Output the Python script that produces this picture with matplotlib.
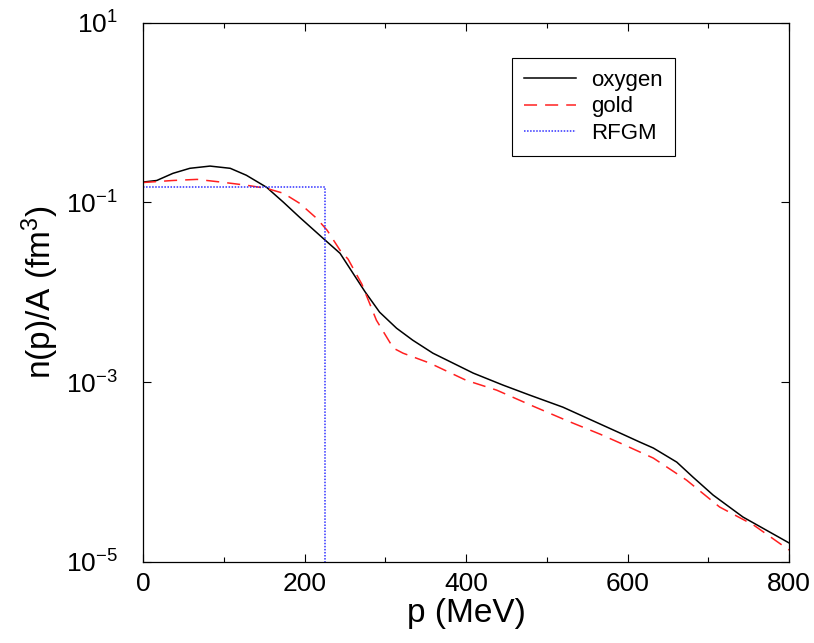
import numpy as np
import matplotlib
matplotlib.use("Agg")
import matplotlib.pyplot as plt
from matplotlib.ticker import FixedLocator, NullFormatter

plt.rcParams['font.family'] = ['Liberation Sans', 'DejaVu Sans']
plt.rcParams['mathtext.fontset'] = 'custom'
plt.rcParams['mathtext.rm'] = 'Liberation Sans'
plt.rcParams['mathtext.it'] = 'Liberation Sans'
plt.rcParams['lines.scale_dashes'] = False

# momentum distributions
p_oxygen = [0, 17, 37, 58, 83, 108, 128, 153, 174, 194, 223, 244, 275, 293, 314, 334,
            359, 409, 446, 479, 520, 591, 615, 632, 661, 681, 706, 743, 800]
n_oxygen = [0.168, 0.175, 0.210, 0.239, 0.253, 0.239, 0.200, 0.147, 0.100, 0.0681,
            0.0398, 0.0271, 0.0101, 0.0060, 0.00398, 0.00293, 0.00210, 0.00126,
            0.000926, 0.000717, 0.000527, 0.000271, 0.000216, 0.000185, 0.000129,
            8.8e-5, 5.55e-5, 3.16e-5, 1.63e-5]

p_gold = [0, 37, 67, 99, 128, 153, 174, 194, 215, 228, 244, 254, 271, 289, 310, 322,
          355, 400, 438, 483, 525, 566, 591, 632, 673, 714, 756, 800]
n_gold = [0.166, 0.175, 0.180, 0.167, 0.155, 0.143, 0.126, 0.0975, 0.0664, 0.0489,
          0.0293, 0.0233, 0.0123, 0.00489, 0.00239, 0.0021, 0.00163, 0.00105,
          0.000815, 0.000541, 0.000373, 0.000264, 0.00021, 0.000143, 8.15e-5,
          4.09e-5, 2.58e-5, 1.36e-5]

p_rfgm = [0, 225, 225]
n_rfgm = [0.147, 0.147, 1e-6]

fig = plt.figure(figsize=(8.14, 6.43), dpi=100)
ax = fig.add_axes([0.1757, 0.126, 0.7936, 0.839])

ax.plot(p_oxygen, n_oxygen, color='black', lw=1.1, label='oxygen')
ax.plot(p_gold, n_gold, color='#ff2020', lw=1.1, dashes=(9.4, 5.8), label='gold')
ax.plot(p_rfgm, n_rfgm, color='#3030ff', lw=1.1, dashes=(1.1, 1.1), label='RFGM')

ax.set_yscale('log')
ax.set_xlim(0, 800)
ax.set_ylim(1e-5, 10)

ax.xaxis.set_major_locator(FixedLocator([0, 200, 400, 600, 800]))
ax.xaxis.set_minor_locator(FixedLocator([100, 300, 500, 700]))
ax.yaxis.set_major_locator(FixedLocator([1e1, 1e-1, 1e-3, 1e-5]))
ax.yaxis.set_minor_locator(FixedLocator([]))
ax.yaxis.set_minor_formatter(NullFormatter())
ax.set_yticklabels([r'$10^{1}$', r'$10^{-1}$', r'$10^{-3}$', r'$10^{-5}$'])

ax.tick_params(which='both', direction='in', top=True, right=True, width=0.8)
ax.tick_params(which='major', length=6)
ax.tick_params(which='minor', length=3.5)
ax.tick_params(axis='x', labelsize=19, pad=7)
ax.tick_params(axis='y', labelsize=19, pad=18)
for s in ax.spines.values():
    s.set_linewidth(0.9)

ax.set_xlabel('p (MeV)', fontsize=24, labelpad=2)
ax.set_ylabel(r'n(p)/A (fm$^{3}$)', fontsize=24, labelpad=4)

leg = ax.legend(loc='upper right', bbox_to_anchor=(0.8235, 0.935), borderaxespad=0,
                fontsize=16, handlelength=2.3, handletextpad=0.7, labelspacing=0.25,
                fancybox=False, edgecolor='black', framealpha=1, borderpad=0.55)
leg.get_frame().set_linewidth(0.8)

fig.savefig('out.png', dpi=100)
